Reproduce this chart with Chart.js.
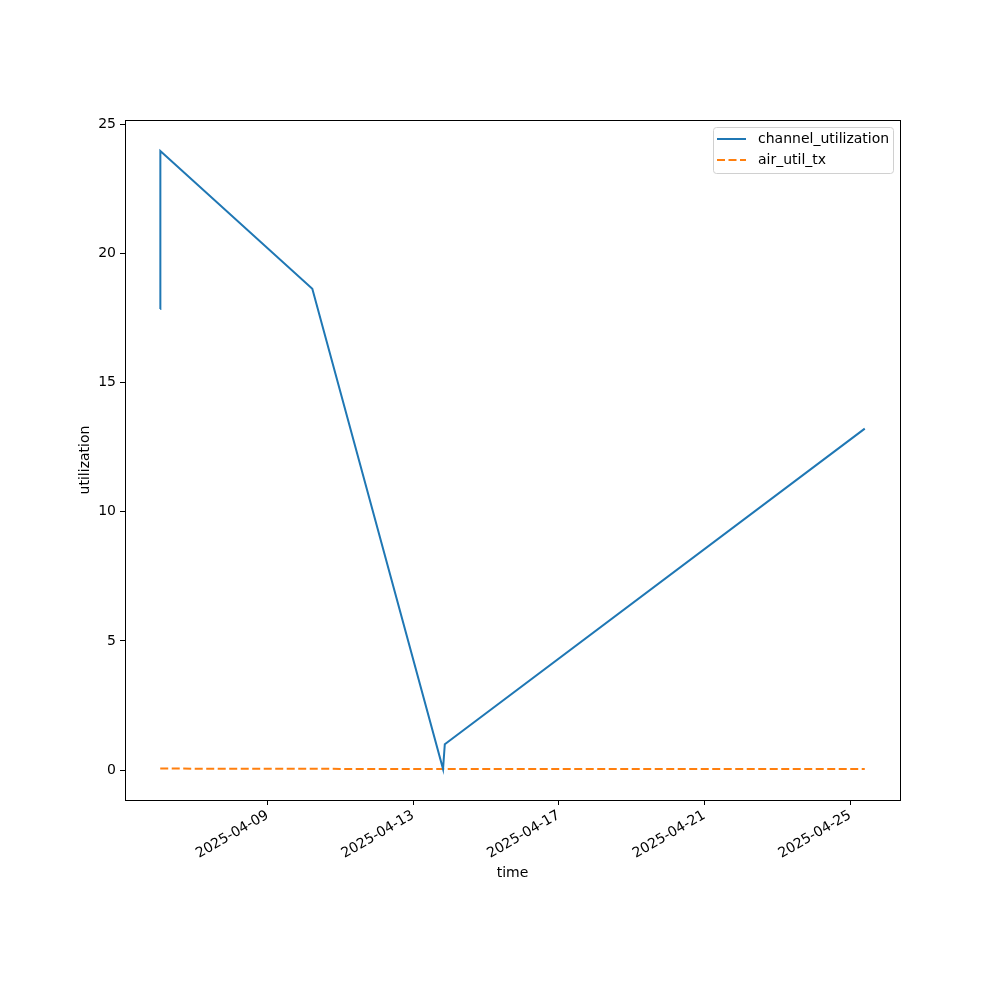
<!DOCTYPE html>
<html>
<head>
<meta charset="utf-8">
<script src="https://cdn.jsdelivr.net/npm/chart.js@4/dist/chart.umd.min.js"></script>
<style>
  html, body { margin: 0; padding: 0; background: #fff; }
  #wrap { width: 1000px; height: 1000px; }
</style>
</head>
<body>
<div id="wrap"><canvas id="c" width="1000" height="1000"></canvas></div>
<script>
// data
const times = ['2025-04-06T01:15', '2025-04-06T01:20', '2025-04-10T05:30', '2025-04-13T19:40', '2025-04-13T20:50', '2025-04-25T09:40'];
const channelUtil = [17.85, 23.97, 18.63, 0.04, 1.0, 13.22];
const airUtilTx = [0.06, 0.06, 0.05, 0.04, 0.04, 0.04];
const xTickDates = ['2025-04-09', '2025-04-13', '2025-04-17', '2025-04-21', '2025-04-25'];
const yTicks = [0, 5, 10, 15, 20, 25];

const toMs = s => Date.parse(s + (s.length > 10 ? ':00Z' : 'T00:00:00Z'));
const xs = times.map(toMs);
const pts = vals => vals.map((v, i) => ({ x: xs[i], y: v }));

const FONT = { family: '"DejaVu Sans", sans-serif', size: 14 };
const xMin = xs[0], xMax = xs[xs.length - 1];
const xPad = (xMax - xMin) * 0.05;
const yLo = 0.04, yHi = 23.97, yPad = (yHi - yLo) * 0.05;

const frameLegend = {
  id: 'frameLegend',
  afterDraw(chart) {
    const ctx = chart.ctx;
    const { top, bottom, left, right } = chart.chartArea;
    ctx.save();
    ctx.strokeStyle = '#000';
    ctx.lineWidth = 1;
    ctx.strokeRect(left + 0.5, top + 0.5, right - left, bottom - top);

    // legend box in upper right
    const bx = 713, by = 127, bw = 180, bh = 46;
    ctx.fillStyle = 'rgba(255,255,255,0.8)';
    ctx.strokeStyle = '#d0d0d0';
    ctx.beginPath();
    ctx.roundRect(bx + 0.5, by + 0.5, bw, bh, 3);
    ctx.fill();
    ctx.stroke();
    ctx.font = '14px "DejaVu Sans", sans-serif';
    ctx.textBaseline = 'middle';
    chart.data.datasets.forEach(function(ds, i) {
      const yy = by + 12 + i * 21;
      ctx.beginPath();
      ctx.setLineDash(ds.borderDash || []);
      ctx.strokeStyle = ds.borderColor;
      ctx.lineWidth = ds.borderWidth;
      ctx.moveTo(717, yy);
      ctx.lineTo(746, yy);
      ctx.stroke();
      ctx.setLineDash([]);
      ctx.fillStyle = '#000';
      ctx.fillText(ds.label, 758, yy);
    });
    ctx.restore();
  }
};

new Chart(document.getElementById('c'), {
  type: 'line',
  data: {
    datasets: [{
      label: 'channel_utilization',
      data: pts(channelUtil),
      borderColor: '#1f77b4',
      borderWidth: 2,
      pointRadius: 0,
      tension: 0,
      fill: false,
    }, {
      label: 'air_util_tx',
      data: pts(airUtilTx),
      borderColor: '#ff7f0e',
      borderWidth: 2,
      borderDash: [8, 3.5],
      pointRadius: 0,
      tension: 0,
      fill: false,
    }]
  },
  plugins: [frameLegend],
  options: {
    responsive: false,
    animation: false,
    devicePixelRatio: 1,
    layout: { padding: { left: 73, top: 120, right: 100, bottom: 114 } },
    plugins: { legend: { display: false }, tooltip: { enabled: false } },
    scales: {
      x: {
        type: 'linear',
        min: xMin - xPad,
        max: xMax + xPad,
        afterBuildTicks: s => { s.ticks = xTickDates.map(d => ({ value: toMs(d) })); },
        afterFit: s => { s.height = 86; },
        grid: { drawOnChartArea: false, drawTicks: true, tickLength: 5, color: '#000' },
        border: { display: true, color: '#000' },
        ticks: {
          color: '#000', font: FONT, maxRotation: 30, minRotation: 30, padding: 2, autoSkip: false,
          callback: v => new Date(v).toISOString().slice(0, 10)
        },
        title: { display: true, text: 'time', color: '#000', font: FONT, padding: { top: 4, bottom: 4 } }
      },
      y: {
        min: yLo - yPad,
        max: yHi + yPad,
        afterBuildTicks: s => { s.ticks = yTicks.map(v => ({ value: v })); },
        afterFit: s => { s.width = 52; },
        grid: { drawOnChartArea: false, drawTicks: true, tickLength: 5, color: '#000' },
        border: { display: true, color: '#000' },
        ticks: { color: '#000', font: FONT, padding: 4 },
        title: { display: true, text: 'utilization', color: '#000', font: FONT, padding: { top: 4, bottom: 4 } }
      }
    }
  }
});
</script>
</body>
</html>
